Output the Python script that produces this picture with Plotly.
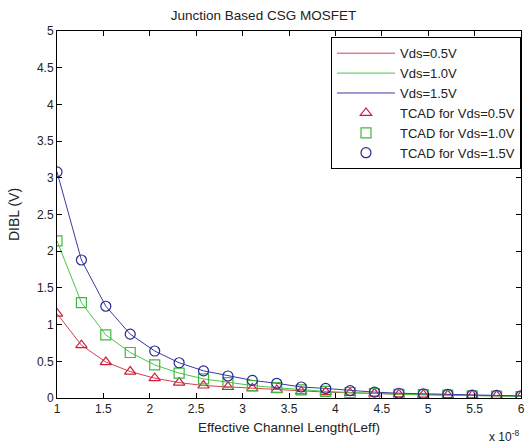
import plotly.graph_objects as go

# Effective channel length in units of 1e-8 m
leff = [1.0, 1.263, 1.526, 1.789, 2.053, 2.316, 2.579, 2.842, 3.105, 3.368,
        3.632, 3.895, 4.158, 4.421, 4.684, 4.947, 5.211, 5.474, 5.737, 6.0]

dibl_05 = [1.15, 0.72, 0.49, 0.36, 0.27, 0.21, 0.17, 0.15, 0.13, 0.11,
           0.09, 0.08, 0.07, 0.06, 0.05, 0.045, 0.04, 0.035, 0.03, 0.025]
dibl_10 = [2.14, 1.30, 0.86, 0.62, 0.45, 0.34, 0.26, 0.21, 0.17, 0.14,
           0.11, 0.09, 0.075, 0.06, 0.05, 0.045, 0.04, 0.03, 0.025, 0.02]
dibl_15 = [3.08, 1.88, 1.25, 0.87, 0.64, 0.48, 0.37, 0.30, 0.24, 0.20,
           0.15, 0.13, 0.10, 0.08, 0.065, 0.055, 0.05, 0.04, 0.035, 0.03]

x_ticks = [1, 1.5, 2, 2.5, 3, 3.5, 4, 4.5, 5, 5.5, 6]
x_tick_labels = ["1", "1.5", "2", "2.5", "3", "3.5", "4", "4.5", "5", "5.5", "6"]
y_ticks = [0, 0.5, 1, 1.5, 2, 2.5, 3, 3.5, 4, 4.5, 5]
y_tick_labels = ["0", "0.5", "1", "1.5", "2", "2.5", "3", "3.5", "4", "4.5", "5"]

line_names = ["Vds=0.5V", "Vds=1.0V", "Vds=1.5V"]
tcad_names = ["TCAD for Vds=0.5V", "TCAD for Vds=1.0V", "TCAD for Vds=1.5V"]
series = [dibl_05, dibl_10, dibl_15]
line_colors = ["#d8404c", "#44c844", "#3a3aa8"]
marker_colors = ["#cc2040", "#40b840", "#282890"]
symbols = ["triangle-up-open", "square-open", "circle-open"]

fig = go.Figure()
for name, ys, c in zip(line_names, series, line_colors):
    fig.add_trace(go.Scatter(x=leff, y=ys, mode="lines", name=name,
                             line=dict(color=c, width=1)))
for name, ys, c, s in zip(tcad_names, series, marker_colors, symbols):
    fig.add_trace(go.Scatter(x=leff, y=ys, mode="markers", name=name,
                             marker=dict(symbol=s, size=10, color=c,
                                         line=dict(color=c, width=1.2))))

font = dict(family="Liberation Sans, Arial, sans-serif", size=12, color="#222222")
fig.update_layout(
    width=527, height=445,
    margin=dict(l=57, r=6, t=31, b=47, autoexpand=False),
    paper_bgcolor="white", plot_bgcolor="white",
    font=font,
    title=dict(text="Junction Based CSG MOSFET", x=0.5, xanchor="center",
               xref="container", yref="container",
               y=0.966, yanchor="middle", font=dict(size=13.5)),
    showlegend=True,
    legend=dict(x=1.0, xanchor="right", y=0.983, yanchor="top",
                bordercolor="#000000", borderwidth=1, bgcolor="white",
                font=dict(size=13), tracegroupgap=0, itemwidth=58),
    xaxis=dict(range=[1, 6], tickvals=x_ticks, ticktext=x_tick_labels,
               ticks="inside", ticklen=5, tickcolor="#000", mirror="ticks",
               showline=True, linecolor="#000", linewidth=1, showgrid=False,
               zeroline=False, automargin=False),
    yaxis=dict(range=[0, 5], tickvals=y_ticks, ticktext=y_tick_labels,
               ticks="inside", ticklen=5, tickcolor="#000", mirror="ticks",
               showline=True, linecolor="#000", linewidth=1, showgrid=False,
               zeroline=False, automargin=False,
               title=dict(text="DIBL (V)", standoff=14)),
    annotations=[
        dict(text="Effective Channel Length(Leff)", xref="paper", yref="paper",
             x=0.5, y=-0.08, xanchor="center", yanchor="middle",
             showarrow=False, font=dict(size=13.5)),
        dict(text="x 10<sup>-8</sup>", xref="paper", yref="paper",
             x=1.0, y=-0.075, xanchor="right", yanchor="top",
             showarrow=False, font=dict(size=12)),
    ],
)

fig.write_html("out.html", config={"displayModeBar": False},
               post_script="document.body.style.margin='0';document.body.style.padding='0';")
